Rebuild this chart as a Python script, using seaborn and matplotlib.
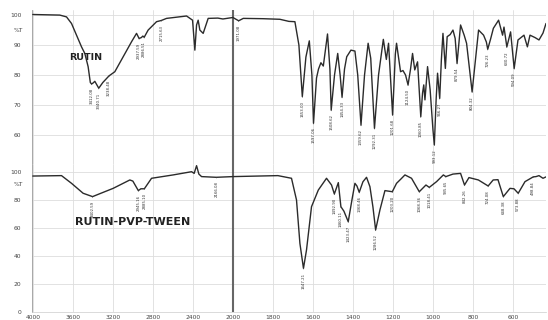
import numpy as np
import pandas as pd
import seaborn as sb
import matplotlib.pyplot as plt
from matplotlib.ticker import FixedLocator, MultipleLocator

# spectra (wavenumber cm-1, %T)
rutin_wn = [4000, 3850, 3730, 3663, 3613, 3557, 3513, 3480, 3447, 3425, 3412.08, 3395, 3380,
            3340.71, 3300, 3238.48, 3180, 3097, 3013, 2963, 2937.59, 2915, 2900, 2886.51, 2847,
            2763, 2715.63, 2663, 2463, 2403, 2380, 2363, 2347, 2330, 2297, 2247, 2150, 2100, 2000,
            1971.08, 1948, 1850, 1765, 1720, 1690, 1670, 1653.00, 1635, 1618, 1605, 1597.06, 1582,
            1572, 1560, 1548, 1527, 1515, 1508.62, 1492, 1476, 1464, 1454.33, 1442, 1431, 1410,
            1390, 1376, 1359.62, 1342, 1324, 1311, 1292.31, 1272, 1248, 1233, 1222, 1201.68, 1188,
            1182, 1170, 1162, 1150, 1137, 1124.50, 1112, 1102, 1091, 1077, 1060.85, 1052, 1046,
            1040, 1027, 1014, 1000, 993.12, 984, 977, 966.27, 958, 950, 938, 929, 914, 900, 889,
            879.54, 862, 844, 832, 804.32, 772, 747, 733, 726.23, 712, 698, 672, 652, 645, 630.72,
            612, 594.09, 575, 560, 545, 528, 515, 490, 470, 450, 435]
rutin_t = [100.2, 100.1, 100.0, 99.4, 97.2, 92.8, 89.4, 87.2, 82.8, 77.5, 77.0, 77.4, 77.9,
           75.6, 77.5, 79.7, 81.1, 86.1, 91.1, 93.9, 92.2, 92.5, 93.0, 92.6, 95.0,
           97.8, 98.2, 98.9, 99.7, 98.3, 88.3, 96.7, 98.3, 95.0, 93.9, 98.9, 99.0, 98.7, 99.2,
           98.1, 98.9, 98.8, 98.6, 97.9, 97.8, 90.0, 72.8, 86.0, 91.4, 80.0, 63.9, 79.0,
           82.0, 84.1, 83.0, 93.7, 82.0, 68.3, 80.0, 87.2, 80.0, 72.6, 82.0, 86.1, 88.3,
           88.0, 80.0, 63.3, 80.0, 90.6, 85.6, 62.2, 80.0, 91.9, 85.2, 90.6, 66.7, 87.0,
           90.6, 85.0, 81.1, 81.5, 80.0, 76.7, 82.0, 87.2, 81.7, 84.4, 66.1, 74.0, 76.7,
           71.7, 82.8, 75.0, 61.7, 56.7, 72.0, 80.6, 72.2, 85.0, 93.9, 82.2, 92.8, 93.5, 95.0, 92.2,
           83.9, 96.7, 93.3, 90.6, 74.4, 95.0, 93.3, 91.0, 88.6, 92.0, 95.6, 98.3, 93.3, 96.0, 89.4,
           94.4, 82.2, 91.7, 92.5, 93.3, 89.4, 93.3, 92.5, 91.7, 94.0, 97.2]

tween_wn = [4000, 3713, 3613, 3497, 3402.59, 3337, 3197, 3030, 3000, 2945.16, 2920, 2885.10,
            2813, 2597, 2413, 2387, 2363, 2340, 2313, 2166.08, 2000, 1775, 1707, 1682, 1665,
            1647.21, 1632, 1607, 1573, 1532, 1507, 1492.90, 1473, 1460.11, 1445, 1423.47, 1405,
            1390, 1380, 1368.46, 1350, 1332, 1315, 1300, 1286.52, 1265, 1240, 1203.20, 1182,
            1160, 1140, 1107, 1068.36, 1035, 1018.41, 982, 948, 935.65, 900, 862, 842.26, 820,
            773, 724.08, 699, 675, 648.38, 615, 595, 573.88, 540, 498.84, 485, 470, 450, 435]
tween_t = [97.1, 97.4, 91.9, 84.8, 82.4, 84.3, 88.3, 94.3, 93.5, 86.7, 88.0, 88.0,
           95.5, 97.9, 100.2, 99.0, 104.5, 98.5, 96.7, 96.2, 96.7, 97.4, 95.5, 80.0, 49.0,
           31.2, 44.3, 75.2, 87.1, 95.5, 90.7, 84.3, 92.4, 75.2, 72.0, 64.5, 80.0,
           91.9, 90.0, 85.5, 93.0, 96.2, 89.5, 75.0, 58.6, 72.9, 86.7, 85.9, 91.9,
           95.0, 97.9, 95.5, 85.9, 90.7, 89.0, 93.1, 97.9, 96.7, 98.5, 99.0, 90.7, 96.0,
           94.3, 90.0, 94.3, 94.5, 82.4, 88.3, 88.0, 84.8, 93.1, 96.5, 96.7, 97.4, 95.5, 96.5]

rutin_peaks = [3412.08, 3340.71, 3238.48, 2937.59, 2886.51, 2715.63, 1971.08, 1653.00, 1597.06,
               1508.62, 1454.33, 1359.62, 1292.31, 1201.68, 1124.50, 1060.85, 993.12, 966.27,
               879.54, 804.32, 726.23, 630.72, 594.09]
tween_peaks = [3402.59, 2945.16, 2885.10, 2166.08, 1647.21, 1492.90, 1460.11, 1423.47, 1368.46,
               1286.52, 1203.20, 1068.36, 1018.41, 935.65, 842.26, 724.08, 648.38, 573.88, 498.84]

x_major = [4000, 3600, 3200, 2800, 2400, 2000, 1800, 1600, 1400, 1200, 1000, 800, 600]


# x axis is compressed by 2 above 2000 cm-1
def fwd(x):
    x = np.asarray(x, dtype=float)
    return np.where(x > 2000, 2000 + (x - 2000) / 2, x)


def inv(x):
    x = np.asarray(x, dtype=float)
    return np.where(x > 2000, 2000 + (x - 2000) * 2, x)


sb.set_style('white')
plt.rcParams['font.family'] = ['DejaVu Sans']

fig = plt.figure(figsize=(5.48, 3.2), dpi=100)
ax1 = fig.add_axes([32 / 548, 1 - 164 / 320, 514 / 548, 154 / 320])
ax2 = fig.add_axes([32 / 548, 1 - 312 / 320, 514 / 548, 148 / 320])

x_minor = [v for v in list(range(3900, 2000, -100)) + list(range(1950, 449, -50)) if v not in x_major]

for ax in (ax1, ax2):
    ax.set_xscale('function', functions=(fwd, inv))
    ax.set_xlim(4008, 435)
    ax.xaxis.set_major_locator(FixedLocator(x_major))
    ax.xaxis.set_minor_locator(FixedLocator(x_minor))
    ax.grid(True, which='major', color='#dddddd', lw=0.6)
    for s in ['top', 'right']:
        ax.spines[s].set_visible(False)
    ax.spines['left'].set_color('#999999')
    ax.spines['left'].set_linewidth(0.6)
    ax.tick_params(axis='y', which='major', direction='out', length=3.5, width=0.5,
                   color='#777777', labelsize=4.3, labelcolor='#444444', pad=4)
    ax.tick_params(axis='y', which='minor', direction='out', length=2.2, width=0.5, color='#999999')
    ax.axvline(2000, color='#666666', lw=1.5, zorder=3)

ax1.spines['bottom'].set_visible(False)
ax1.tick_params(axis='x', which='both', length=0, labelbottom=False)
ax2.spines['bottom'].set_color('#cccccc')
ax2.spines['bottom'].set_linewidth(0.5)
ax2.tick_params(axis='x', which='major', direction='inout', length=3, width=0.5,
                color='#777777', labelsize=4.3, labelcolor='#444444', pad=1)
ax2.tick_params(axis='x', which='minor', direction='inout', length=2, width=0.5, color='#888888')

ax1.set_ylim(50.3, 101.7)
ax1.yaxis.set_major_locator(FixedLocator([60, 70, 80, 90, 100]))
ax1.yaxis.set_minor_locator(MultipleLocator(2))
ax2.set_ylim(0, 105.7)
ax2.yaxis.set_major_locator(FixedLocator([0, 20, 40, 60, 80, 100]))
ax2.yaxis.set_minor_locator(MultipleLocator(4))

sb.lineplot(x=rutin_wn, y=rutin_t, ax=ax1, color='#2b2b2b', lw=1.0, sort=False, zorder=4)
sb.lineplot(x=tween_wn, y=tween_t, ax=ax2, color='#2b2b2b', lw=1.0, sort=False, zorder=4)

# peak labels
for ax, wn, t, peaks in [(ax1, rutin_wn, rutin_t, rutin_peaks), (ax2, tween_wn, tween_t, tween_peaks)]:
    lookup = dict(zip(wn, t))
    for p in peaks:
        ax.annotate(f'{p:.2f}', xy=(p, lookup[p]), xytext=(0, -3), textcoords='offset points',
                    rotation=90, ha='center', va='top', fontsize=2.8, color='#333333',
                    arrowprops=dict(arrowstyle='-', lw=0.4, color='#444444', shrinkA=0, shrinkB=0),
                    annotation_clip=False, zorder=5)

ax1.text(-0.018, 95, '%T', transform=ax1.get_yaxis_transform(), ha='right', va='center',
         fontsize=4.3, color='#444444')
ax2.text(-0.018, 91, '%T', transform=ax2.get_yaxis_transform(), ha='right', va='center',
         fontsize=4.3, color='#444444')

ax1.text(3470, 86, 'RUTIN', ha='center', va='center', fontsize=6.8, fontweight='bold', color='#222222')
ax2.text(3000, 64, 'RUTIN-PVP-TWEEN', ha='center', va='center', fontsize=8, fontweight='bold',
         color='#222222')

for ax in (ax1, ax2):
    ax.set_xlabel('')
    ax.set_ylabel('')

plt.savefig('out.png', dpi=100)
